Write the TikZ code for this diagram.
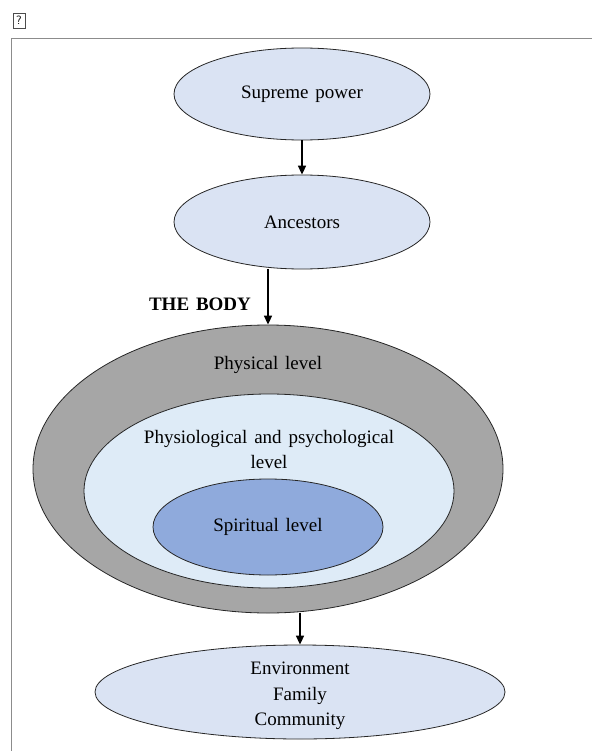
\documentclass[tikz,border=0pt]{standalone}
\usepackage{fontspec}
\setmainfont{Liberation Serif}
\usetikzlibrary{shapes.geometric,arrows.meta,positioning}

\definecolor{paleblue}{HTML}{DAE3F3}
\definecolor{bodygray}{HTML}{A6A6A6}
\definecolor{lightblue}{HTML}{DEEBF7}
\definecolor{midblue}{HTML}{8FAADC}
\definecolor{framegray}{HTML}{8C8C8C}

\def\lblfont{\fontsize{19}{25.5}\selectfont\spaceskip=0.36em\relax}

\begin{document}
\begin{tikzpicture}[x=1pt,y=-1pt,
    txt/.style={font=\lblfont,align=center},
    level/.style={txt,ellipse,draw=black!85,line width=0.8pt,inner sep=0pt},
    conn/.style={line width=1.6pt,-{Triangle[length=9pt,width=8pt]}}
    ]
    \useasboundingbox (0,0) rectangle (592,751);
    % frame
    \draw[framegray,line width=1pt] (11.5,751) |- (592,38.5);
    \node[draw=black!70,font=\sffamily\fontsize{12}{12}\selectfont,inner sep=0pt,
      minimum width=12pt,minimum height=15pt] (icon) at (19,20.5) {?};

    % powers above
    \node[level,fill=paleblue,minimum width=256pt,minimum height=92pt] (supreme) at (302,94) {Supreme power};
    \node[level,fill=paleblue,minimum width=256pt,minimum height=94pt] (ancestors) at (302,222) {Ancestors};

    % the body
    \node[txt,font=\lblfont\bfseries] (bodytitle) at (200,304) {THE BODY};
    \node[level,fill=bodygray,minimum width=470pt,minimum height=288pt] (body) at (268,469) {};
    \node[level,fill=lightblue,minimum width=370pt,minimum height=194pt] (mind) at (269,491) {};
    \node[level,fill=midblue,minimum width=230pt,minimum height=96pt] (spirit) at (268,527) {Spiritual level};
    \node[txt] (physical) at ([yshift=-40pt]body.north) {Physical level};
    \node[txt] (psy) at ([yshift=-56pt]mind.north) {Physiological and psychological\\level};

    % surroundings
    \node[level,fill=paleblue,minimum width=410pt,minimum height=94pt] (env) at (300,692) {};
    \node[txt] (envtext) at ([yshift=-4pt]env.center) {Environment\\Family\\Community};

    % arrows
    \draw[conn] (supreme) -- (ancestors);
    \draw[conn] (ancestors.south -| body.north) -- (body.north);
    \draw[conn] (body.south -| env.north) -- (env.north);
  \end{tikzpicture}
\end{document}
